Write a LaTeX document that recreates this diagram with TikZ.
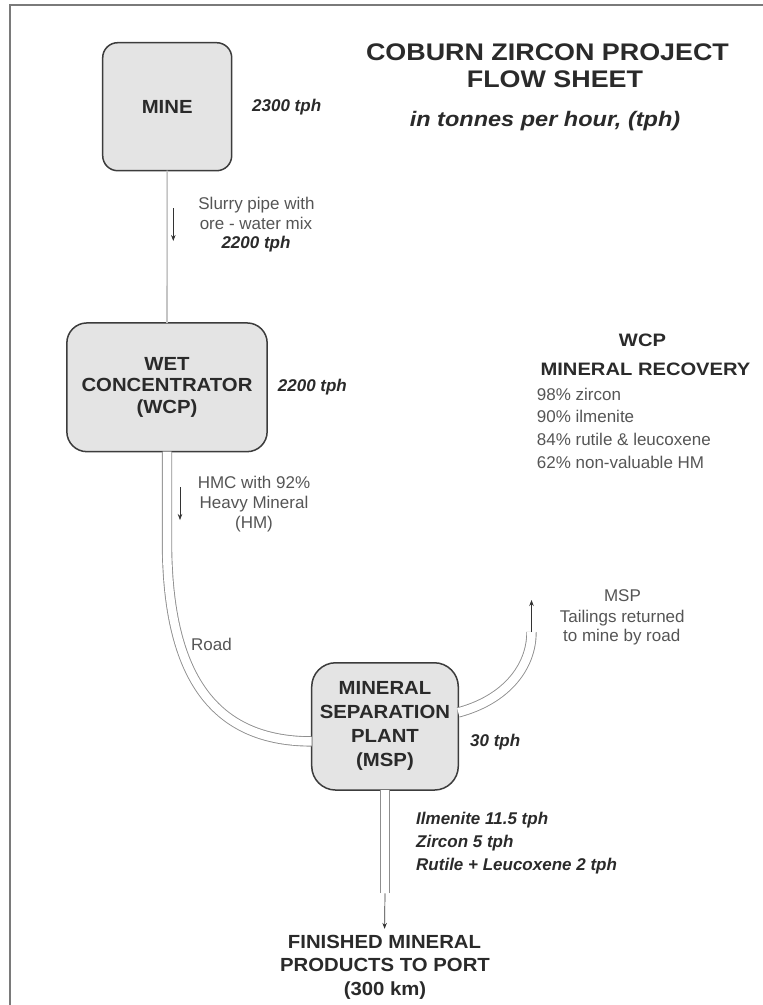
\documentclass[tikz,border=0pt]{standalone}
\usepackage{fontspec}
\setmainfont{Liberation Sans}
\newfontfamily\boxfont[FakeStretch=1.07]{Liberation Sans}
\newfontfamily\widefont[FakeStretch=1.12]{Liberation Sans}
\usetikzlibrary{arrows.meta}
\definecolor{boxfill}{HTML}{E4E4E4}
\definecolor{boxline}{HTML}{3C3C3C}
\definecolor{darktext}{HTML}{2A2A2A}
\definecolor{graytext}{HTML}{555555}
\definecolor{roadline}{HTML}{8E8E8E}
\definecolor{pipeline}{HTML}{C4C4C4}
\definecolor{framecol}{HTML}{7A7A7A}
\tikzset{
  unitbox/.style={draw=boxline, line width=1.5pt, fill=boxfill, inner sep=0pt, outer sep=0pt,
    align=center, text=darktext, font=\boxfont\bfseries\fontsize{19}{21.5}\selectfont},
  labbold/.style={text=darktext, inner sep=0pt, font=\bfseries\itshape\fontsize{17}{20}\selectfont},
  labplain/.style={text=graytext, inner sep=0pt, font=\fontsize{17}{20}\selectfont},
  capbold/.style={text=darktext, inner sep=0pt, font=\boxfont\bfseries\fontsize{19}{22}\selectfont},
  titlebold/.style={text=darktext, inner sep=0pt, font=\widefont\bfseries\fontsize{24}{28}\selectfont},
  recbold/.style={text=darktext, inner sep=0pt, font=\widefont\bfseries\fontsize{18}{21}\selectfont},
  road/.style={draw=roadline, line width=0.9pt, double=white, double distance=8.5pt},
  pipe/.style={draw=pipeline, line width=1.6pt},
  flowarrow/.style={draw=black!80, line width=0.7pt, -{Stealth[length=6pt,width=4.5pt]}},
}
\begin{document}
\begin{tikzpicture}[x=1pt,y=-1pt]
\useasboundingbox (0,0) rectangle (763,1005);
% frame
\draw[framecol, line width=2pt] (10,1005) -- (10,5) -- (763,5);

% boxes
\node[unitbox, rounded corners=15pt, minimum width=129pt, minimum height=128pt] (mine) at (167.2,106.7) {MINE};
\node[unitbox, rounded corners=20pt, minimum width=200.3pt, minimum height=128.7pt] (wcp) at (167,387.3) {WET\\CONCENTRATOR\\(WCP)};
\node[unitbox, rounded corners=24pt, minimum width=146.6pt, minimum height=127.3pt,
      font=\boxfont\bfseries\fontsize{19}{24}\selectfont] (msp) at (385,726.4) {MINERAL\\SEPARATION\\PLANT\\(MSP)};

% connectors
\draw[pipe] (mine.south) -- (wcp.north);
\draw[road] (wcp.south) -- ++(0,90) .. controls +(0,145) and +(-90,0) .. ([yshift=-15pt]msp.west);
\coordinate (tend) at (531.5,632);
\draw[road] ([yshift=14pt]msp.east) .. controls (505,700) and (531.5,668) .. (tend);
\coordinate (pend) at (385,893.3);
\draw[road] (msp.south) -- (pend);

% direction arrows
\coordinate (a1s) at (173.3,208); \coordinate (a1e) at (173.3,241);
\draw[flowarrow] (a1s) -- (a1e);
\coordinate (a2s) at (180,487); \coordinate (a2e) at (180,520);
\draw[flowarrow] (a2s) -- (a2e);
\coordinate (a3e) at (531.5,600);
\draw[flowarrow] (tend) -- (a3e);

% title
\node[titlebold, anchor=base] (t1) at (547.5,60.7) {COBURN ZIRCON PROJECT};
\node[titlebold, anchor=base] (t2) at (555,87.3) {FLOW SHEET};
\node[titlebold, anchor=base, font=\widefont\bfseries\itshape\fontsize{21}{24}\selectfont] (t3) at (545,126) {in tonnes per hour, (tph)};

% labels
\node[labbold, anchor=base west] (l2300) at (252,111.7) {2300 tph};
\node[labplain, anchor=base] (s1) at (256.5,209) {Slurry pipe with};
\node[labplain, anchor=base] (s2) at (256,229) {ore - water mix};
\node[labbold, anchor=base] (s3) at (256,248) {2200 tph};
\node[labbold, anchor=base west] (l2200) at (277.7,391.7) {2200 tph};
\node[labplain, anchor=base] (h1) at (254,488.3) {HMC with 92\%};
\node[labplain, anchor=base] (h2) at (254,508.3) {Heavy Mineral};
\node[labplain, anchor=base] (h3) at (254,528) {(HM)};
\node[labplain, anchor=base west] (roadlab) at (191,650.7) {Road};
\node[labbold, anchor=base west] (l30) at (470,746.7) {30 tph};
\node[labplain, anchor=base] (m1) at (622.5,601.7) {MSP};
\node[labplain, anchor=base] (m2) at (622.3,622.7) {Tailings returned};
\node[labplain, anchor=base] (m3) at (621.7,641.7) {to mine by road};
\node[labbold, anchor=base west] (p1) at (416,824) {Ilmenite 11.5 tph};
\node[labbold, anchor=base west] (p2) at (416,847.3) {Zircon 5 tph};
\node[labbold, anchor=base west] (p3) at (416,870.7) {Rutile + Leucoxene 2 tph};

% recovery
\node[recbold, anchor=base] (r1) at (642.5,346) {WCP};
\node[recbold, anchor=base] (r2) at (645.5,375) {MINERAL RECOVERY};
\node[labplain, anchor=base west] (r3) at (536.7,400) {98\% zircon};
\node[labplain, anchor=base west] (r4) at (536.7,422.7) {90\% ilmenite};
\node[labplain, anchor=base west] (r5) at (536.7,445.7) {84\% rutile \& leucoxene};
\node[labplain, anchor=base west] (r6) at (536.7,468.3) {62\% non-valuable HM};

% finished products
\node[capbold, anchor=base] (f1) at (384.5,948.3) {FINISHED MINERAL};
\node[capbold, anchor=base] (f2) at (385,971.7) {PRODUCTS TO PORT};
\node[capbold, anchor=base] (f3) at (385,995) {(300 km)};
\draw[flowarrow, shorten >=6pt] (pend) -- (f1.north);
\end{tikzpicture}
\end{document}
